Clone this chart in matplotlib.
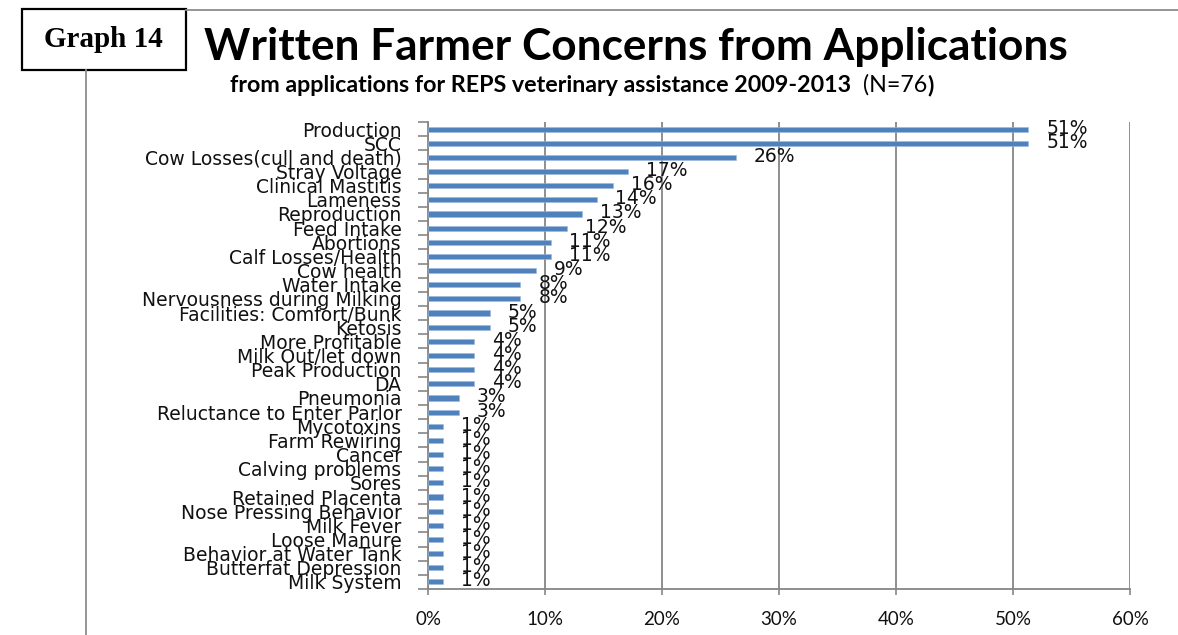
import matplotlib
matplotlib.use("Agg")
import matplotlib.pyplot as plt
from matplotlib.lines import Line2D
from matplotlib.patches import Rectangle
from matplotlib.ticker import FixedLocator, PercentFormatter
import numpy as np

categories = [
    "Production", "SCC", "Cow Losses(cull and death)", "Stray Voltage",
    "Clinical Mastitis", "Lameness", "Reproduction", "Feed Intake",
    "Abortions", "Calf Losses/Health", "Cow health", "Water Intake",
    "Nervousness during Milking", "Facilities: Comfort/Bunk", "Ketosis",
    "More Profitable", "Milk Out/let down", "Peak Production", "DA",
    "Pneumonia", "Reluctance to Enter Parlor", "Mycotoxins", "Farm Rewiring",
    "Cancer", "Calving problems", "Sores", "Retained Placenta",
    "Nose Pressing Behavior", "Milk Fever", "Loose Manure",
    "Behavior at Water Tank", "Butterfat Depression", "Milk System",
]
values = [
    51.32, 51.32, 26.32, 17.11, 15.79, 14.47, 13.16, 11.84, 10.53, 10.53,
    9.21, 7.89, 7.89, 5.26, 5.26, 3.95, 3.95, 3.95, 3.95, 2.63, 2.63,
    1.32, 1.32, 1.32, 1.32, 1.32, 1.32, 1.32, 1.32, 1.32, 1.32, 1.32, 1.32,
]
x_ticks = [0, 10, 20, 30, 40, 50, 60]

W, H = 1178, 635
fig = plt.figure(figsize=(W / 100, H / 100), dpi=100)

def fx(px):
    return px / W

def fy(py):
    return 1 - py / H

ax = fig.add_axes([fx(428), fy(589), fx(1130) - fx(428), fy(122) - fy(589)])

bar_color = "#4F81BD"
grid_color = "#868686"
lab_font = "DejaVu Sans"
lab_size = 13.5
text_color = "#111111"

y = np.arange(len(categories))
ax.barh(y, values, height=0.36, color=bar_color, edgecolor="#9DB8DA",
        linewidth=0.4, zorder=3)

for yi, v in zip(y, values):
    ax.annotate(f"{round(v):d}%", xy=(v, yi), xytext=(18, 1),
                textcoords="offset pixels", ha="left", va="center",
                fontsize=lab_size, family=lab_font, color=text_color,
                zorder=4)

ax.set_xlim(0, 60)
ax.set_ylim(len(categories) - 0.5, -0.5)

ax.xaxis.set_major_locator(FixedLocator(x_ticks))
ax.xaxis.set_major_formatter(PercentFormatter(decimals=0))
ax.grid(axis="x", color=grid_color, linewidth=1.3, zorder=0)
ax.set_axisbelow(True)

ax.set_yticks(y)
ax.set_yticklabels(categories, family=lab_font, fontsize=lab_size,
                   color=text_color)
ax.set_yticks(np.arange(-0.5, len(categories), 1.0), minor=True)
ax.tick_params(axis="y", which="major", length=0, pad=19)
ax.tick_params(axis="y", which="minor", length=7, width=1.2,
               color=grid_color, direction="out")
ax.tick_params(axis="x", which="major", length=4, width=1.2,
               color=grid_color, pad=12, labelsize=13.5)
for lbl in ax.get_xticklabels():
    lbl.set_family("Lato")
    lbl.set_color(text_color)

for side in ["top", "right"]:
    ax.spines[side].set_visible(False)
for side in ["left", "bottom"]:
    ax.spines[side].set_color(grid_color)
    ax.spines[side].set_linewidth(1.3)

# Page decorations
fig.add_artist(Line2D([fx(86), fx(86)], [fy(70), fy(635)],
                      transform=fig.transFigure, color="#8C8C8C", lw=1.3))
fig.add_artist(Line2D([fx(186), fx(1178)], [fy(10), fy(10)],
                      transform=fig.transFigure, color="#8C8C8C", lw=1.3))
fig.add_artist(Rectangle((fx(22), fy(70)), fx(186) - fx(22), fy(9) - fy(70),
                         transform=fig.transFigure, fill=False,
                         edgecolor="black", lw=1.6))
fig.text(fx(103), fy(47), "Graph 14", ha="center", va="baseline",
         family="Liberation Serif", fontweight="bold", fontsize=21)

title = fig.text(fx(636), fy(47), "Written Farmer Concerns from Applications",
                 ha="center", va="center", family="Lato", fontweight="bold",
                 fontsize=26)

t1 = fig.text(fx(230), fy(92), "from applications for REPS veterinary assistance 2009-2013",
              ha="left", va="baseline", family="Lato", fontweight="bold",
              fontsize=13)
a2 = ax.annotate("  (N=76", xy=(1, 0), xycoords=t1, ha="left", va="bottom",
                 family="Lato", fontsize=13, annotation_clip=False)
a3 = ax.annotate(")", xy=(1, 0), xycoords=a2, ha="left", va="bottom",
                 family="Lato", fontweight="bold", fontsize=13,
                 annotation_clip=False)

# Fit title and subtitle widths to the reference layout
fig.canvas.draw()
r = fig.canvas.get_renderer()
w = title.get_window_extent(r).width
title.set_fontsize(title.get_fontsize() * 863 / w)
x0 = t1.get_window_extent(r).x0
x1 = a3.get_window_extent(r).x1
s = 703 / (x1 - x0)
for t in (t1, a2, a3):
    t.set_fontsize(t.get_fontsize() * s)

fig.savefig("out.png", dpi=100)
